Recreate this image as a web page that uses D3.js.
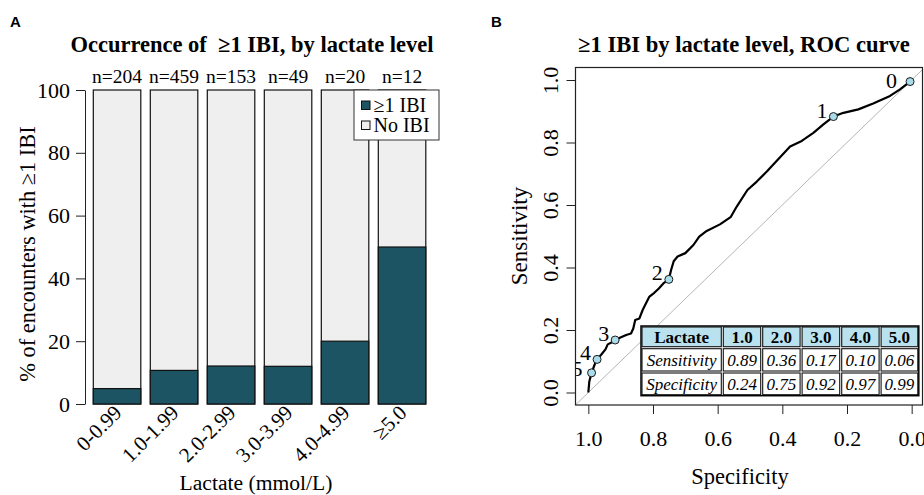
<!DOCTYPE html>
<html><head><meta charset="utf-8">
<script src="https://cdn.jsdelivr.net/npm/d3@7/dist/d3.min.js"></script>
<style>
body{margin:0;background:#fff;}
text{font-family:"Liberation Serif","Times New Roman",serif;fill:#000;}
.panel{font-family:"Liberation Sans",Arial,sans-serif;font-weight:bold;}
</style></head>
<body><svg id="chart" width="924" height="495"></svg>
<script>
// ---------- Panel A data ----------
const categories = ["0-0.99","1.0-1.99","2.0-2.99","3.0-3.99","4.0-4.99","≥5.0"];
const nLabels = [204, 459, 153, 49, 20, 12];
const ibiPct = [4.9, 10.7, 12.1, 12.0, 20.0, 50.0];
const yTicksA = [0, 20, 40, 60, 80, 100];
const legendLabels = ["≥1 IBI", "No IBI"];

// ---------- Panel B data ----------
const rocSpec = [1.0,0.997,0.99,0.981,0.973,0.961,0.947,0.94,0.93,0.917,0.899,0.883,0.868,0.861,0.855,0.842,0.832,0.822,0.811,0.796,0.782,0.768,0.751,0.744,0.736,0.724,0.700,0.675,0.657,0.634,0.593,0.560,0.541,0.508,0.479,0.448,0.407,0.376,0.340,0.304,0.273,0.242,0.211,0.165,0.119,0.067,0.036,0.005];
const rocSens = [0.0,0.035,0.063,0.088,0.106,0.12,0.138,0.154,0.159,0.168,0.177,0.184,0.189,0.205,0.232,0.237,0.264,0.285,0.307,0.319,0.333,0.349,0.362,0.392,0.42,0.435,0.446,0.472,0.499,0.517,0.538,0.561,0.595,0.648,0.675,0.707,0.753,0.787,0.805,0.831,0.858,0.883,0.895,0.906,0.925,0.949,0.970,0.995];
const thrLabels = ["5","4","3","2","1","0"];
const thrSpec = [0.99, 0.973, 0.917, 0.751, 0.242, 0.005];
const thrSens = [0.063, 0.106, 0.168, 0.362, 0.883, 0.995];
const axisTicksB = [0, 0.2, 0.4, 0.6, 0.8, 1.0];
const tableHeader = ["Lactate","1.0","2.0","3.0","4.0","5.0"];
const tableSens = ["Sensitivity","0.89","0.36","0.17","0.10","0.06"];
const tableSpec = ["Specificity","0.24","0.75","0.92","0.97","0.99"];

const teal = "#1c5463", light = "#efefef", cyan = "#a9dcea", hdr = "#b9e2ee";
const svg = d3.select("#chart");

// ================= Panel A =================
svg.append("text").attr("class","panel").attr("x",10).attr("y",27).style("font-size","15px").text("A");
svg.append("text").attr("x",252).attr("y",52).attr("text-anchor","middle").style("white-space","pre")
  .style("font-size","22.5px").style("font-weight","bold").text("Occurrence of  ≥1 IBI, by lactate level");

const xA = d3.scaleLinear().domain([0, 7.2]).range([83.8, 425.8]);
const yA = d3.scaleLinear().domain([0, 100]).range([404, 90]);
const gA = svg.append("g");
const bars = categories.map((c,i)=>({c, i, n:nLabels[i], v:ibiPct[i]}));

gA.selectAll("rect.bg").data(bars).join("rect")
  .attr("x", d=>xA(0.2+d.i*1.2)).attr("width", xA(1)-xA(0))
  .attr("y", yA(100)).attr("height", yA(0)-yA(100))
  .attr("fill", light).attr("stroke","#111").attr("stroke-width",1.2);
gA.selectAll("rect.fg").data(bars).join("rect")
  .attr("x", d=>xA(0.2+d.i*1.2)).attr("width", xA(1)-xA(0))
  .attr("y", d=>yA(d.v)).attr("height", d=>yA(0)-yA(d.v))
  .attr("fill", teal).attr("stroke","#111").attr("stroke-width",1.2);

gA.selectAll("text.n").data(bars).join("text")
  .attr("x", d=>xA(0.7+d.i*1.2)).attr("y", 83).attr("text-anchor","middle")
  .style("font-size","19.5px").text(d=>"n="+d.n);

gA.selectAll("text.cat").data(bars).join("text")
  .attr("text-anchor","end").style("font-size","21px")
  .attr("transform", d=>`translate(${xA(0.7+d.i*1.2)+6},${414}) rotate(-45)`)
  .text(d=>d.c);

const axA = gA.append("g").attr("transform","translate(85,0)")
  .call(d3.axisLeft(yA).tickValues(yTicksA).tickSize(9).tickSizeOuter(0).tickPadding(6));
axA.select(".domain").attr("stroke","#222");
axA.selectAll(".tick line").attr("stroke","#222");
axA.selectAll(".tick text").style("font-size","22px").style("font-family","Liberation Serif");

svg.append("text").attr("transform","translate(35,254) rotate(-90)").attr("text-anchor","middle")
  .style("font-size","22.4px").text("% of encounters with ≥1 IBI");
svg.append("text").attr("x",256).attr("y",490).attr("text-anchor","middle")
  .style("font-size","21.6px").text("Lactate (mmol/L)");

// legend
const lg = svg.append("g");
lg.append("rect").attr("x",354).attr("y",90).attr("width",85).attr("height",50)
  .attr("fill","#fff").attr("stroke","#333").attr("stroke-width",1);
[teal, light].forEach((col,i)=>{
  lg.append("rect").attr("x",361.5).attr("y",101+i*20).attr("width",8.5).attr("height",8.5)
    .attr("fill",col).attr("stroke","#111").attr("stroke-width",1);
  lg.append("text").attr("x",373.5).attr("y",112+i*20).style("font-size","20px").text(legendLabels[i]);
});

// ================= Panel B =================
svg.append("text").attr("class","panel").attr("x",491).attr("y",27).style("font-size","15px").text("B");
svg.append("text").attr("x",744).attr("y",52).attr("text-anchor","middle")
  .style("font-size","22.6px").style("font-weight","bold").text("≥1 IBI by lactate level, ROC curve");

const xB = d3.scaleLinear().domain([1.04, -0.04]).range([575.4, 924.6]);
const yB = d3.scaleLinear().domain([-0.04, 1.04]).range([405, 67.5]);
const bLeft = 575.5, bRight = 922.5, bTop = 67.5, bBottom = 405;

svg.append("defs").append("clipPath").attr("id","clipB").append("rect")
  .attr("x",bLeft).attr("y",bTop).attr("width",bRight-bLeft).attr("height",bBottom-bTop);

const gB = svg.append("g");
const plot = gB.append("g").attr("clip-path","url(#clipB)");
plot.append("line").attr("x1",xB(1.04)).attr("y1",yB(-0.04)).attr("x2",xB(-0.04)).attr("y2",yB(1.04))
  .attr("stroke","#b5b5b5").attr("stroke-width",1);
const roc = rocSpec.map((s,i)=>[s, rocSens[i]]);
plot.append("path").datum(roc)
  .attr("d", d3.line().x(d=>xB(d[0])).y(d=>yB(d[1])))
  .attr("fill","none").attr("stroke","#000").attr("stroke-width",2.2).attr("stroke-linejoin","round");
const thr = thrLabels.map((l,i)=>({l, s:thrSpec[i], v:thrSens[i]}));
const labOff = {"0":[13,6], "5":[9,3]};
plot.selectAll("text.thr").data(thr).join("text")
  .attr("x", d=>xB(d.s)-(labOff[d.l]?labOff[d.l][0]:6)).attr("y", d=>yB(d.v)+(labOff[d.l]?labOff[d.l][1]:1))
  .attr("text-anchor","end").style("font-size","22px").text(d=>d.l);
plot.selectAll("circle").data(thr).join("circle")
  .attr("cx", d=>xB(d.s)).attr("cy", d=>yB(d.v)).attr("r",4)
  .attr("fill",cyan).attr("stroke","#1a1a1a").attr("stroke-width",1);

// table
const tbl = gB.append("g");
const colW = [81.3, 39.4, 39.4, 39.6, 39.4, 38.7];
const rowH = [21.7, 24.3, 23.7];
const tx0 = 641, ty0 = 326;
const rows = [tableHeader, tableSens, tableSpec];
tbl.append("rect").attr("x",tx0).attr("y",ty0).attr("width",d3.sum(colW)).attr("height",d3.sum(rowH))
  .attr("fill","#fff").attr("stroke","#000").attr("stroke-width",1.5);
let yy = ty0;
rows.forEach((row,r)=>{
  let xx = tx0;
  row.forEach((cell,c)=>{
    tbl.append("rect").attr("x",xx+1).attr("y",yy+1).attr("width",colW[c]-2).attr("height",rowH[r]-2)
      .attr("fill", r===0 ? hdr : "#fff").attr("stroke","#111").attr("stroke-width",1.1);
    tbl.append("text").attr("x",xx+colW[c]/2).attr("y",yy+rowH[r]/2+6).attr("text-anchor","middle")
      .style("font-size","17px")
      .style("font-weight", r===0 ? "bold" : "normal")
      .style("font-style", r===0 ? "normal" : "italic")
      .text(cell);
    xx += colW[c];
  });
  yy += rowH[r];
});

gB.append("rect").attr("x",bLeft).attr("y",bTop).attr("width",bRight-bLeft).attr("height",bBottom-bTop)
  .attr("fill","none").attr("stroke","#222").attr("stroke-width",1.2);

const axX = gB.append("g").attr("transform",`translate(0,${bBottom})`)
  .call(d3.axisBottom(xB).tickValues(axisTicksB).tickFormat(d3.format(".1f")).tickSize(9).tickSizeOuter(0).tickPadding(16));
axX.select(".domain").remove();
axX.selectAll(".tick line").attr("stroke","#222");
axX.selectAll(".tick text").style("font-size","22px").style("font-family","Liberation Serif");

const axY = gB.append("g").attr("transform",`translate(${bLeft},0)`)
  .call(d3.axisLeft(yB).tickValues(axisTicksB).tickFormat(d3.format(".1f")).tickSize(9).tickSizeOuter(0));
axY.select(".domain").remove();
axY.selectAll(".tick line").attr("stroke","#222");
axY.selectAll(".tick text").attr("x",0).attr("dy",null).attr("text-anchor","middle")
  .attr("transform","translate(-18,0) rotate(-90)")
  .style("font-size","22px").style("font-family","Liberation Serif");

svg.append("text").attr("x",740).attr("y",484).attr("text-anchor","middle").style("font-size","22.5px").text("Specificity");
svg.append("text").attr("transform","translate(527,236) rotate(-90)").attr("text-anchor","middle")
  .style("font-size","23px").text("Sensitivity");
</script></body></html>
